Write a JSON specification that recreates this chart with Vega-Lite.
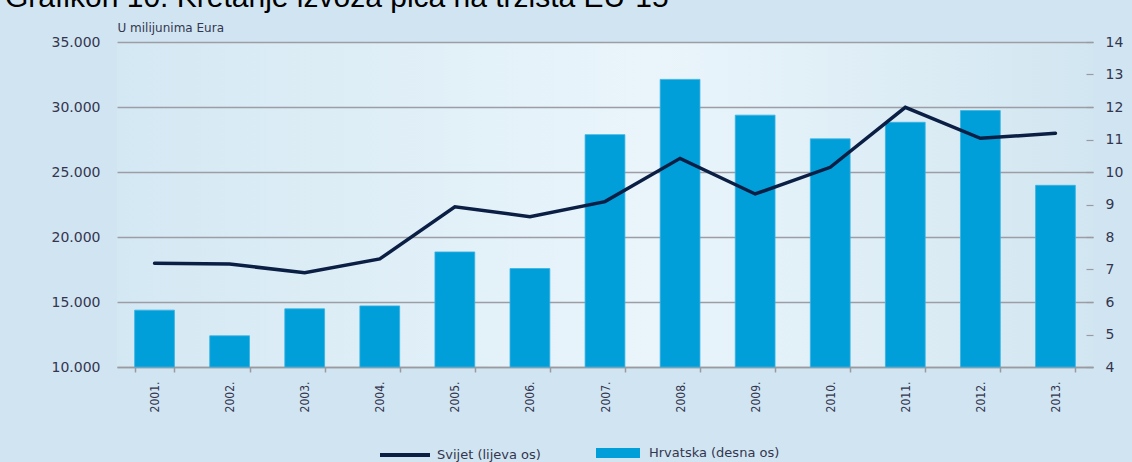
{
  "$schema": "https://vega.github.io/schema/vega-lite/v6.json",
  "width": 976,
  "height": 325,
  "autosize": {"type": "none"},
  "padding": {"left": 117, "top": 42, "right": 39, "bottom": 95},
  "background": "#d0e5f1",
  "title": {
    "text": "Grafikon 10. Kretanje izvoza pića na tržišta EU-15",
    "anchor": "start",
    "frame": "group",
    "font": "Liberation Sans",
    "fontSize": 30,
    "fontWeight": "normal",
    "color": "#000000",
    "baseline": "alphabetic",
    "offset": -16,
    "dx": -112
  },
  "config": {
    "view": {
      "stroke": null,
      "fill": {
        "gradient": "linear",
        "x1": 0, "y1": 0, "x2": 1, "y2": 0,
        "stops": [
          {"offset": 0, "color": "#d4e8f3"},
          {"offset": 0.55, "color": "#eaf5fb"},
          {"offset": 1, "color": "#d2e6f1"}
        ]
      }
    },
    "axis": {
      "labelFont": "DejaVu Sans",
      "labelColor": "#35354f",
      "titleFont": "DejaVu Sans",
      "titleColor": "#35354f"
    }
  },
  "data": {
    "values": [
      {"godina": "2001.", "svijet": 17980, "hrvatska": 5.75},
      {"godina": "2002.", "svijet": 17920, "hrvatska": 4.96},
      {"godina": "2003.", "svijet": 17250, "hrvatska": 5.79},
      {"godina": "2004.", "svijet": 18310, "hrvatska": 5.88},
      {"godina": "2005.", "svijet": 22330, "hrvatska": 7.54},
      {"godina": "2006.", "svijet": 21560, "hrvatska": 7.03},
      {"godina": "2007.", "svijet": 22720, "hrvatska": 11.15},
      {"godina": "2008.", "svijet": 26050, "hrvatska": 12.85},
      {"godina": "2009.", "svijet": 23310, "hrvatska": 11.75},
      {"godina": "2010.", "svijet": 25360, "hrvatska": 11.02},
      {"godina": "2011.", "svijet": 29980, "hrvatska": 11.53},
      {"godina": "2012.", "svijet": 27590, "hrvatska": 11.89},
      {"godina": "2013.", "svijet": 27980, "hrvatska": 9.59}
    ]
  },
  "encoding": {
    "x": {
      "field": "godina",
      "type": "ordinal",
      "sort": null,
      "scale": {"paddingInner": 0.47, "paddingOuter": 0.235},
      "axis": {
        "title": null,
        "labelAngle": -90,
        "labelAlign": "right",
        "labelBaseline": "middle",
        "labelFont": "DejaVu Sans Condensed",
        "labelFontSize": 12,
        "labelPadding": 9,
        "tickBand": "extent",
        "tickSize": 5,
        "tickColor": "#9a9aa0",
        "tickWidth": 1.5,
        "domainColor": "#9a9aa0",
        "domainWidth": 1.5
      }
    }
  },
  "layer": [
    {
      "mark": {"type": "bar", "stroke": "#3ab3e2", "strokeWidth": 0.8},
      "encoding": {
        "y": {
          "field": "hrvatska",
          "type": "quantitative",
          "scale": {"domain": [4, 14], "nice": false, "zero": false},
          "axis": {
            "orient": "right",
            "title": null,
            "values": [4, 5, 6, 7, 8, 9, 10, 11, 12, 13, 14],
            "grid": false,
            "domain": false,
            "tickSize": -7,
            "tickColor": "#9a9aa0",
            "tickWidth": 1.2,
            "labelPadding": 19,
            "labelFontSize": 14
          }
        },
        "y2": {"datum": 4},
        "fill": {
          "datum": "Hrvatska (desna os)",
          "scale": {"range": ["#009fda"]},
          "legend": {
            "orient": "none",
            "legendX": 476,
            "legendY": 386,
            "title": null,
            "symbolType": "M-0.88,-0.2H0.88V0.2H-0.88Z",
            "symbolSize": 2500,
            "symbolStrokeWidth": 0,
            "symbolOpacity": 1,
            "labelOffset": 6,
            "labelFont": "DejaVu Sans",
            "labelFontSize": 13,
            "labelColor": "#35354f"
          }
        }
      }
    },
    {
      "mark": {"type": "line", "strokeWidth": 3.5, "strokeCap": "round", "strokeJoin": "miter"},
      "encoding": {
        "y": {
          "field": "svijet",
          "type": "quantitative",
          "scale": {"domain": [10000, 35000], "nice": false, "zero": false},
          "axis": {
            "orient": "left",
            "title": "U milijunima Eura",
            "titleAngle": 0,
            "titleAlign": "left",
            "titleBaseline": "alphabetic",
            "titleX": 0,
            "titleY": -11,
            "titleFontSize": 12,
            "titleFontWeight": "normal",
            "values": [10000, 15000, 20000, 25000, 30000, 35000],
            "labelExpr": "replace(format(datum.value, ','), ',', '.')",
            "grid": true,
            "gridColor": "#9d9da5",
            "gridWidth": 1.3,
            "domain": false,
            "ticks": false,
            "labelPadding": 17,
            "labelFontSize": 14
          }
        },
        "stroke": {
          "datum": "Svijet (lijeva os)",
          "scale": {"range": ["#0b1f45"]},
          "legend": {
            "orient": "none",
            "legendX": 261,
            "legendY": 386,
            "title": null,
            "symbolType": "stroke",
            "symbolSize": 2500,
            "symbolStrokeWidth": 4,
            "labelOffset": 5,
            "labelFont": "DejaVu Sans",
            "labelFontSize": 13,
            "labelColor": "#35354f"
          }
        }
      }
    }
  ],
  "resolve": {"scale": {"y": "independent"}}
}
